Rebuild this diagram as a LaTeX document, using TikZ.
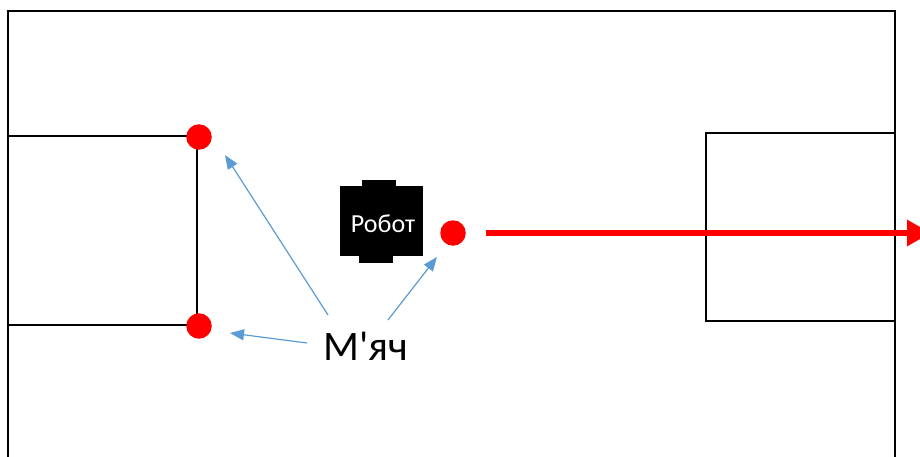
\documentclass[tikz,border=0pt]{standalone}
\usepackage{fontspec}
\setmainfont{Carlito}[Ligatures=TeXOff]
\usetikzlibrary{arrows.meta}
\definecolor{ballred}{RGB}{255,0,0}
\definecolor{hintblue}{RGB}{91,155,213}
\tikzset{
  fieldline/.style={line width=2.4pt, black},
  ball/.style={circle, fill=ballred, inner sep=0pt, minimum size=25.5pt},
  hint/.style={hintblue, line width=1.2pt, -{Triangle[length=14pt,width=11pt]}},
  movepath/.style={ballred, line width=6.5pt, -{Triangle[length=24pt,width=25pt]}},
}
\begin{document}
\begin{tikzpicture}[x=1pt, y=-1pt]
  \useasboundingbox (0,0) rectangle (920,457);
  \clip (0,0) rectangle (920,457);
  % field border, open at the bottom
  \draw[fieldline] (8,470) -- (8,11) -- (895,11) -- (895,470);
  % left goal area
  \draw[fieldline] (8,136) -- (197,136) -- (197,325) -- (8,325);
  % right goal area
  \draw[fieldline] (706,133) rectangle (895,321);
  % robot
  \fill (340,186) rectangle (423,256);
  \fill (362,180) rectangle (396,190);
  \fill (359,250) rectangle (393,263);
  \node[text=white, font=\fontsize{26}{30}\selectfont] (robot) at (383,224) {Робот};
  % balls
  \node[ball] (b1) at (199,137) {};
  \node[ball] (b2) at (199,326) {};
  \node[ball] (b3) at (453,233) {};
  % label
  \node[font=\fontsize{42}{48}\selectfont, inner sep=0pt] (lbl) at (366,346) {М'яч};
  \coordinate (t1) at (225,155);
  \coordinate (t2) at (230,333);
  \coordinate (t3) at (437,257);
  \coordinate (s1) at (328,315);
  \coordinate (s2) at (307,343);
  \coordinate (s3) at (388,320);
  \draw[hint] (s1) -- (t1);
  \draw[hint] (s2) -- (t2);
  \draw[hint] (s3) -- (t3);
  % movement direction
  \coordinate (goal) at (931,233);
  \draw[movepath] (486,233) -- (goal);
\end{tikzpicture}
\end{document}
